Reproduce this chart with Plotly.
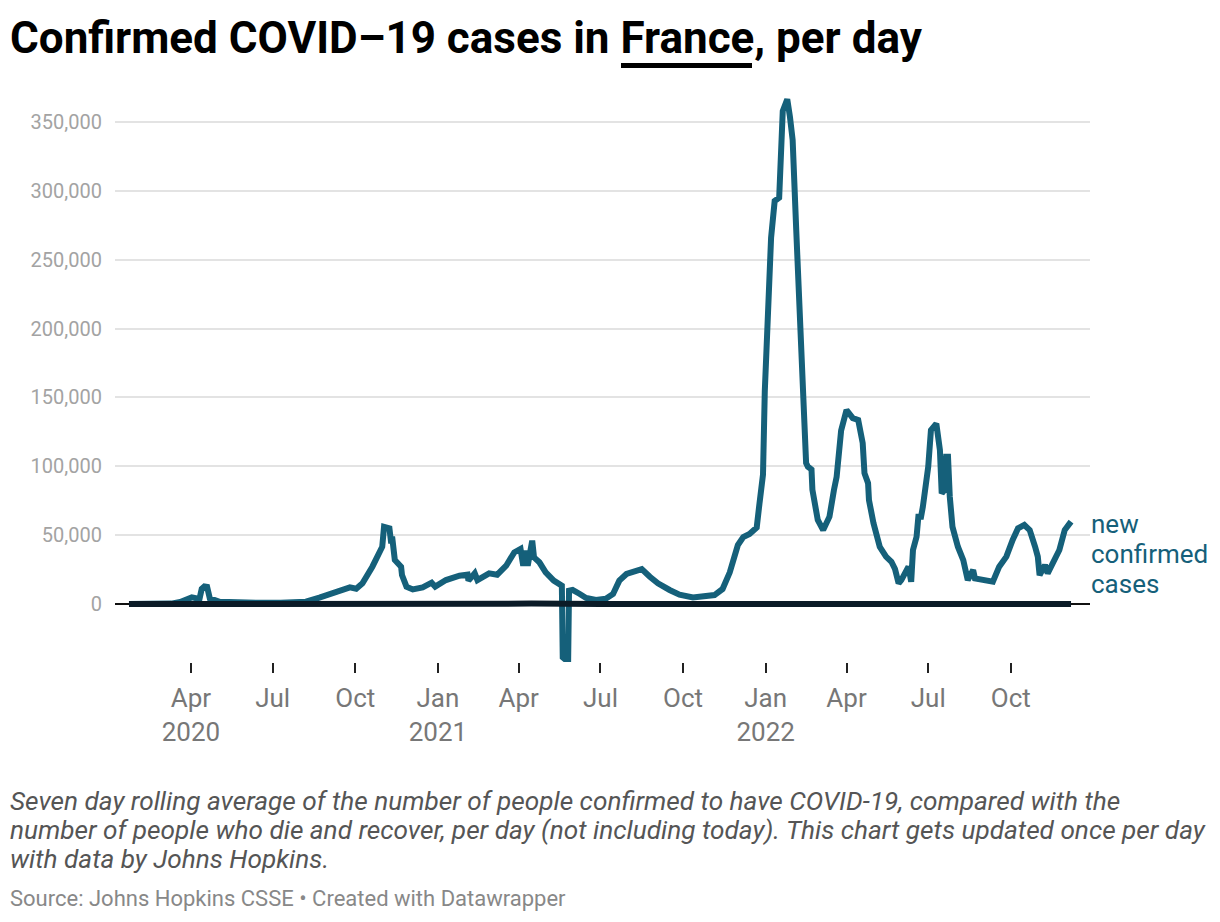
import plotly.graph_objects as go

# ---- data ----
case_dates = [
    "2020-01-23", "2020-02-25", "2020-03-10", "2020-03-20", "2020-03-27", "2020-04-02",
    "2020-04-07", "2020-04-09", "2020-04-13", "2020-04-16", "2020-04-19", "2020-04-22",
    "2020-05-03", "2020-05-20", "2020-06-15", "2020-07-10", "2020-07-25", "2020-08-07",
    "2020-08-22", "2020-09-06", "2020-09-25", "2020-10-02", "2020-10-09", "2020-10-20",
    "2020-10-28", "2020-10-31", "2020-11-02", "2020-11-08", "2020-11-10", "2020-11-11",
    "2020-11-14", "2020-11-17", "2020-11-21", "2020-11-22", "2020-11-27", "2020-12-04",
    "2020-12-15", "2020-12-25", "2020-12-29",
    "2021-01-10", "2021-01-25", "2021-02-03", "2021-02-04", "2021-02-11", "2021-02-14",
    "2021-02-27", "2021-03-08", "2021-03-18", "2021-03-27", "2021-04-03", "2021-04-06",
    "2021-04-09", "2021-04-11", "2021-04-16", "2021-04-18", "2021-04-24", "2021-05-01",
    "2021-05-10", "2021-05-19", "2021-05-20", "2021-05-26", "2021-05-27", "2021-05-31",
    "2021-06-08", "2021-06-15", "2021-06-26", "2021-07-07", "2021-07-15", "2021-07-22",
    "2021-07-30", "2021-08-06", "2021-08-16", "2021-08-25", "2021-09-03", "2021-09-16",
    "2021-09-27", "2021-10-12", "2021-10-27", "2021-11-05", "2021-11-14", "2021-11-22",
    "2021-12-01", "2021-12-07", "2021-12-14", "2021-12-22", "2021-12-25", "2021-12-29",
    "2021-12-31",
    "2022-01-03", "2022-01-07", "2022-01-11", "2022-01-16", "2022-01-20", "2022-01-25",
    "2022-01-28", "2022-01-31", "2022-02-04", "2022-02-08", "2022-02-10", "2022-02-13",
    "2022-02-15", "2022-02-17", "2022-02-21", "2022-02-22", "2022-02-24", "2022-02-28",
    "2022-03-06", "2022-03-13", "2022-03-18", "2022-03-21", "2022-03-26", "2022-04-01",
    "2022-04-08", "2022-04-14", "2022-04-19", "2022-04-21", "2022-04-25", "2022-04-26",
    "2022-05-01", "2022-05-08", "2022-05-15", "2022-05-21", "2022-05-25", "2022-05-29",
    "2022-06-01", "2022-06-05", "2022-06-09", "2022-06-12", "2022-06-14", "2022-06-18",
    "2022-06-20", "2022-06-23", "2022-06-25", "2022-07-01", "2022-07-04", "2022-07-10",
    "2022-07-14", "2022-07-16", "2022-07-19", "2022-07-21", "2022-07-23", "2022-07-25",
    "2022-07-28", "2022-08-03", "2022-08-09", "2022-08-14", "2022-08-18", "2022-08-20",
    "2022-08-22", "2022-08-31", "2022-09-11", "2022-09-18", "2022-09-26", "2022-10-03",
    "2022-10-09", "2022-10-16", "2022-10-22", "2022-10-28", "2022-10-31", "2022-11-02",
    "2022-11-08", "2022-11-11", "2022-11-17", "2022-11-24", "2022-11-30", "2022-12-07",
]
case_values = [
    0, 0, 300, 1500, 3200, 4800,
    4200, -700, 11000, 12800, 12500, 4100,
    1600, 1100, 900, 1000, 1100, 1700,
    4600, 7700, 12100, 11100, 15000, 27100,
    39200, 41600, 56000, 55000, 44000, 48900,
    32000, 29500, 27100, 21000, 12600, 10600,
    12100, 15500, 12600,
    17400, 20600, 21300, 17000, 22300, 17400,
    22300, 21300, 27800, 37500, 40000, 27800,
    38700, 27800, 46000, 33900, 30300, 23000,
    17000, 13300, -38700, -42000, 9700, 10200,
    7300, 4400, 2900, 3900, 7300, 17000,
    21800, 23000, 25400, 19800, 15000, 10200,
    6800, 4800, 5300, 6500, 10900, 23000,
    42800, 48600, 50800, 55600, 72600, 94000,
    154800,
    203000, 266000, 292700, 295000, 358000, 366500,
    353800, 337000, 271600, 215900, 167500, 138700,
    102400, 99700, 97700, 83000, 73000, 61000,
    53700, 63400, 82800, 92400, 126000, 140900,
    135000, 133600, 116900, 95000, 87800, 75500,
    58800, 41600, 34400, 30700, 25400, 15000,
    17400, 22300, 27100, 16200, 39200, 48900,
    63400, 63400, 70600, 99700, 126300, 131000,
    111800, 80400, 82800, 107000, 107000, 77900,
    56000, 41600, 31900, 17400, 22300, 24700,
    18600, 17400, 16200, 27100, 34400, 46500,
    55000, 57400, 53700, 41600, 34400, 21000,
    28300, 22300, 30700, 39200, 53700, 59800,
]

death_dates = [
    "2020-01-23", "2020-03-10", "2020-04-10", "2020-05-15", "2020-07-01", "2020-09-01",
    "2020-11-10", "2021-01-15", "2021-04-15", "2021-07-01", "2021-09-01", "2021-11-01",
    "2022-01-25", "2022-04-01", "2022-07-01", "2022-10-01", "2022-12-07",
]
death_values = [
    0, 20, 1000, 150, 20, 20,
    600, 350, 300, 30, 100, 30,
    250, 120, 60, 40, 80,
]

y_tick_values = [0, 50000, 100000, 150000, 200000, 250000, 300000, 350000]
y_tick_labels = ["0", "50,000", "100,000", "150,000", "200,000", "250,000", "300,000", "350,000"]
x_tick_dates = ["2020-04-01", "2020-07-01", "2020-10-01", "2021-01-01", "2021-04-01",
                "2021-07-01", "2021-10-01", "2022-01-01", "2022-04-01", "2022-07-01",
                "2022-10-01"]
x_tick_labels = ["Apr<br>2020", "Jul", "Oct", "Jan<br>2021", "Apr", "Jul", "Oct",
                 "Jan<br>2022", "Apr", "Jul", "Oct"]
caption_lines = [
    "Seven day rolling average of the number of people confirmed to have COVID-19, compared with the",
    "number of people who die and recover, per day (not including today). This chart gets updated once per day",
    "with data by Johns Hopkins.",
]
label_lines = ["new", "confirmed", "cases"]

TEAL = "#15607a"
DARK = "#0b1b27"

fig = go.Figure()
fig.add_trace(go.Scatter(x=case_dates, y=case_values, mode="lines",
                         line=dict(color=TEAL, width=6), name="new confirmed cases",
                         hoverinfo="skip"))
fig.add_trace(go.Scatter(x=death_dates, y=death_values, mode="lines",
                         line=dict(color=DARK, width=6), name="deaths",
                         hoverinfo="skip"))

# page has an 8px body margin; target plot area on screen: x 115..1090, y 92..662
OFF = 8
FW, FH = 1212, 914
L, R, T, B = 115, 1090, 92, 662
W, H = R - L, B - T

def px(xp):
    return (xp - L) / W

def py(yp):
    return (B - yp) / H

fig.update_layout(
    width=FW, height=FH,
    margin=dict(l=L - OFF, r=FW - (R - OFF), t=T - OFF, b=FH - (B - OFF)),
    paper_bgcolor="white", plot_bgcolor="white",
    showlegend=False,
    font=dict(family="Roboto", color="#333"),
    xaxis=dict(
        type="date",
        range=["2020-01-07 10:00", "2022-12-28 03:00"],
        tickvals=x_tick_dates, ticktext=x_tick_labels,
        ticks="outside", ticklen=10, tickwidth=2, tickcolor="#222",
        tickfont=dict(family="Roboto", size=26, color="#777777"),
        ticklabelstandoff=3,
        showgrid=False, zeroline=False, showline=False,
    ),
    yaxis=dict(
        range=[-42100, 371800],
        tickvals=y_tick_values, ticktext=y_tick_labels,
        tickfont=dict(family="Roboto", size=20, color="#a3a3a3"),
        showgrid=True, gridcolor="#e3e3e3", gridwidth=2,
        zeroline=True, zerolinecolor="#111", zerolinewidth=2,
        ticks="", ticklabelstandoff=12,
    ),
)

annotations = [
    dict(text="<b>Confirmed COVID–19 cases in France, per day</b>",
         xref="paper", yref="paper", x=px(8), y=py(38), xanchor="left", yanchor="middle",
         showarrow=False, font=dict(family="Roboto", size=44, color="#000")),
]
for i, t in enumerate(label_lines):
    annotations.append(dict(text=t, xref="paper", yref="paper", x=px(1089), y=py(524 + 30 * i),
                            xanchor="left", yanchor="middle", showarrow=False,
                            font=dict(family="Roboto", size=26, color=TEAL)))
for i, t in enumerate(caption_lines):
    annotations.append(dict(text="<i>" + t + "</i>", xref="paper", yref="paper",
                            x=px(8), y=py(801 + 29 * i), xanchor="left", yanchor="middle",
                            showarrow=False, font=dict(family="Roboto", size=26.2, color="#555")))
annotations.append(dict(text="Source: Johns Hopkins CSSE • Created with Datawrapper",
                        xref="paper", yref="paper", x=px(8), y=py(898), xanchor="left",
                        yanchor="middle", showarrow=False,
                        font=dict(family="Roboto", size=22, color="#888")))
fig.update_layout(annotations=annotations)

fig.add_shape(type="line", xref="paper", yref="paper",
              x0=px(621), x1=px(752), y0=py(65.5), y1=py(65.5),
              line=dict(color="#000", width=5))

fig.write_html("out.html")
